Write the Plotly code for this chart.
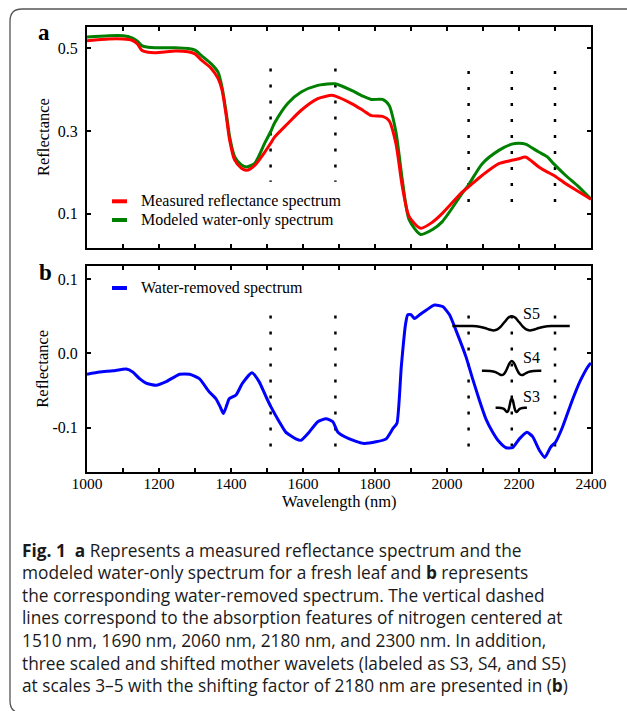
import plotly.graph_objects as go

# ---------------- data ----------------
wl_a = [1000, 1060, 1100, 1125, 1140, 1152, 1170, 1189, 1220, 1244, 1281, 1300, 1318,
        1345, 1364, 1375, 1387, 1396, 1410, 1429, 1443, 1466, 1494, 1510, 1521, 1558,
        1595, 1641, 1680, 1690, 1735, 1766, 1790, 1821, 1839, 1858, 1876, 1895, 1927,
        1960, 1987, 2042, 2060, 2098, 2144, 2180, 2200, 2218, 2255, 2278, 2296, 2329,
        2366, 2400]
measured = [0.518, 0.522, 0.522, 0.519, 0.510, 0.495, 0.490, 0.489, 0.491, 0.493, 0.491,
            0.486, 0.471, 0.451, 0.427, 0.399, 0.335, 0.279, 0.230, 0.210, 0.205, 0.217,
            0.249, 0.270, 0.285, 0.318, 0.350, 0.378, 0.386, 0.384, 0.366, 0.350, 0.337,
            0.335, 0.325, 0.270, 0.165, 0.093, 0.065, 0.080, 0.101, 0.152, 0.165, 0.193,
            0.221, 0.229, 0.233, 0.237, 0.213, 0.201, 0.193, 0.173, 0.153, 0.135]
modeled = [0.527, 0.530, 0.530, 0.525, 0.517, 0.506, 0.502, 0.501, 0.501, 0.501, 0.499,
           0.495, 0.482, 0.462, 0.442, 0.406, 0.342, 0.287, 0.238, 0.218, 0.213, 0.222,
           0.271, 0.298, 0.319, 0.367, 0.394, 0.410, 0.414, 0.414, 0.398, 0.384, 0.376,
           0.376, 0.362, 0.298, 0.181, 0.085, 0.050, 0.062, 0.081, 0.149, 0.170, 0.221,
           0.253, 0.268, 0.270, 0.268, 0.249, 0.238, 0.221, 0.193, 0.165, 0.135]

wl_b = [1000, 1035, 1072, 1109, 1127, 1146, 1164, 1192, 1220, 1257, 1285, 1312, 1340,
        1358, 1370, 1379, 1388, 1395, 1414, 1432, 1458, 1478, 1497, 1511, 1534, 1552,
        1580, 1594, 1617, 1641, 1664, 1683, 1697, 1729, 1766, 1803, 1831, 1850, 1861,
        1873, 1885, 1891, 1900, 1910, 1924, 1942, 1965, 1988, 2007, 2025, 2053, 2071,
        2090, 2108, 2127, 2145, 2164, 2182, 2201, 2222, 2238, 2256, 2272, 2288, 2302,
        2321, 2348, 2371, 2394, 2400]
water_removed = [-0.028, -0.025, -0.0235, -0.021, -0.025, -0.034, -0.040, -0.043, -0.038,
                 -0.028, -0.028, -0.034, -0.052, -0.061, -0.072, -0.081, -0.070, -0.061,
                 -0.056, -0.040, -0.026, -0.038, -0.058, -0.072, -0.092, -0.106, -0.115,
                 -0.117, -0.106, -0.092, -0.088, -0.092, -0.106, -0.115, -0.121, -0.119,
                 -0.115, -0.101, -0.094, -0.018, 0.040, 0.052, 0.052, 0.047, 0.052, 0.058,
                 0.065, 0.063, 0.052, 0.031, -0.005, -0.034, -0.063, -0.088, -0.106,
                 -0.119, -0.127, -0.127, -0.115, -0.106, -0.112, -0.130, -0.140, -0.126,
                 -0.119, -0.099, -0.063, -0.036, -0.016, -0.013]

# scaled / shifted mother wavelets (centre 2180 nm)
s5_wl = [2015, 2070, 2090, 2105, 2120, 2130, 2140, 2150, 2160, 2170, 2180, 2190, 2200,
         2210, 2220, 2230, 2240, 2255, 2270, 2290, 2341]
s5_val = [0.0368, 0.0367, 0.0359, 0.0342, 0.0317, 0.0309, 0.0322, 0.0363, 0.0422, 0.0478,
          0.0500, 0.0478, 0.0422, 0.0363, 0.0322, 0.0309, 0.0317, 0.0342, 0.0359, 0.0367,
          0.0368]
s4_wl = [2097, 2120, 2135, 2145, 2152, 2158, 2164, 2170, 2175, 2180, 2185, 2190, 2196,
         2202, 2208, 2215, 2225, 2240, 2262]
s4_val = [-0.0234, -0.0236, -0.0251, -0.0279, -0.0292, -0.0279, -0.0234, -0.0169, -0.0122,
          -0.0104, -0.0122, -0.0169, -0.0234, -0.0279, -0.0292, -0.0279, -0.0251, -0.0236,
          -0.0234]
s3_wl = [2135, 2150, 2158, 2163, 2167, 2170, 2172.5, 2175, 2177.5, 2180, 2182.5, 2185,
         2187.5, 2190, 2193, 2197, 2202, 2210, 2222]
s3_val = [-0.0733, -0.0734, -0.0746, -0.0773, -0.0789, -0.0773, -0.0733, -0.0677, -0.0627,
          -0.0607, -0.0627, -0.0677, -0.0733, -0.0773, -0.0789, -0.0773, -0.0746, -0.0734,
          -0.0733]

nitrogen_wl = [1510, 1690, 2060, 2180, 2300]
dash_top_a = [0.451, 0.451, 0.445, 0.445, 0.445]
dash_bot_a = [0.177, 0.177, 0.097, 0.097, 0.097]
dash_top_b = [0.051, 0.051, 0.051, 0.051, 0.051]
dash_bot_b = [-0.139, -0.139, -0.139, -0.139, -0.139]

x_tickvals = list(range(1000, 2401, 100))
x_ticktext = ['1000', '', '1200', '', '1400', '', '1600', '', '1800', '', '2000', '',
              '2200', '', '2400']
ya_tickvals = [0.1, 0.3, 0.5]
ya_ticktext = ['0.1', '0.3', '0.5']
yb_tickvals = [-0.1, 0.0, 0.1]
yb_ticktext = ['-0.1', '0.0', '0.1']

wavelet_labels = ['S5', 'S4', 'S3']
wavelet_label_x = [2235, 2235, 2235]
wavelet_label_y = [0.054, -0.005, -0.058]

caption_lines = [
    "<b>Fig. 1</b>\u00a0\u00a0<b>a</b> Represents a measured reflectance spectrum and the",
    "modeled water-only spectrum for a fresh leaf and <b>b</b> represents",
    "the corresponding water-removed spectrum. The vertical dashed",
    "lines correspond to the absorption features of nitrogen centered at",
    "1510 nm, 1690 nm, 2060 nm, 2180 nm, and 2300 nm. In addition,",
    "three scaled and shifted mother wavelets (labeled as S3, S4, and S5)",
    "at scales 3\u20135 with the shifting factor of 2180 nm are presented in (<b>b</b>)",
]

# ---------------- layout geometry ----------------
W, H = 627, 711
L, R, T, B = 87, 36, 27, 239
PW, PH = W - L - R, H - T - B


def px(xp):
    return (xp - L) / PW


def py(yp):
    return (H - B - yp) / PH


SERIF = "Liberation Serif, Times New Roman, serif"
RED, GREEN, BLUE = "#ff0000", "#008000", "#0000ff"

# x tick-label standoff (pull the labels a little closer to the axis if allowed)
try:
    go.layout.XAxis(ticklabelstandoff=-4)
    X_STANDOFF = -4
except Exception:
    X_STANDOFF = 0

fig = go.Figure()

# dashed nitrogen lines
for i, w in enumerate(nitrogen_wl):
    fig.add_trace(go.Scatter(x=[w, w], y=[dash_top_a[i], dash_bot_a[i]], mode="lines",
                             line=dict(color="black", width=2.5, dash="3px,13px"),
                             xaxis="x", yaxis="y", showlegend=False, hoverinfo="skip"))
    fig.add_trace(go.Scatter(x=[w, w], y=[dash_top_b[i], dash_bot_b[i]], mode="lines",
                             line=dict(color="black", width=2.5, dash="3px,13px"),
                             xaxis="x2", yaxis="y2", showlegend=False, hoverinfo="skip"))

fig.add_trace(go.Scatter(x=wl_a, y=modeled, mode="lines", name="Modeled water-only spectrum",
                         line=dict(color=GREEN, width=3, shape="spline", smoothing=0.7),
                         xaxis="x", yaxis="y", showlegend=False))
fig.add_trace(go.Scatter(x=wl_a, y=measured, mode="lines", name="Measured reflectance spectrum",
                         line=dict(color=RED, width=3, shape="spline", smoothing=0.7),
                         xaxis="x", yaxis="y", showlegend=False))
fig.add_trace(go.Scatter(x=wl_b, y=water_removed, mode="lines", name="Water-removed spectrum",
                         line=dict(color=BLUE, width=3, shape="spline", smoothing=0.5),
                         xaxis="x2", yaxis="y2", showlegend=False))
for wx, wy in [(s5_wl, s5_val), (s4_wl, s4_val), (s3_wl, s3_val)]:
    fig.add_trace(go.Scatter(x=wx, y=wy, mode="lines",
                             line=dict(color="black", width=2.5, shape="spline", smoothing=0.8),
                             xaxis="x2", yaxis="y2", showlegend=False, hoverinfo="skip"))

axis_common = dict(showline=True, linewidth=2, linecolor="black", mirror="ticks",
                   ticks="inside", ticklen=4, tickwidth=1.5, tickcolor="black",
                   showgrid=False, zeroline=False,
                   tickfont=dict(family=SERIF, size=16, color="black"))

fig.update_layout(
    width=W, height=H,
    margin=dict(l=L, r=R, t=T, b=B, autoexpand=False),
    paper_bgcolor="white", plot_bgcolor="white",
    xaxis=dict(domain=[0, 1], range=[1000, 2400], anchor="y", tickvals=x_tickvals,
               ticktext=x_ticktext, showticklabels=False, **axis_common),
    yaxis=dict(domain=[py(247.7), 1], range=[0.018, 0.551], anchor="x",
               tickvals=ya_tickvals, ticktext=ya_ticktext, ticklabelstandoff=4, **axis_common),
    xaxis2=dict(domain=[0, 1], range=[1000, 2400], anchor="y2", tickvals=x_tickvals,
                ticktext=x_ticktext, showticklabels=True, ticklabelstandoff=X_STANDOFF,
                **axis_common),
    yaxis2=dict(domain=[0, py(265.7)], range=[-0.1596, 0.118], anchor="x2",
                tickvals=yb_tickvals, ticktext=yb_ticktext, ticklabelstandoff=4, **axis_common),
    showlegend=False,
)
fig.update_xaxes(selector=dict(anchor="y2"), tickfont=dict(size=15.5))


def label(text, x, y, size, xanchor="center", angle=0, family=SERIF, color="black"):
    return dict(text=text, x=px(x), y=py(y), xref="paper", yref="paper", showarrow=False,
                xanchor=xanchor, yanchor="middle", textangle=angle,
                font=dict(family=family, size=size, color=color))


ann = []
ann.append(label("<b>a</b>", 44, 32, 23))
ann.append(label("<b>b</b>", 45, 272, 23))
for yc in (137, 368.7):
    ann.append(label("Reflectance", 43, yc, 16.5, angle=-90))
ann.append(label("Wavelength (nm)", 339, 501, 16.5))

legend_items = [("Measured reflectance spectrum", RED, 201.3),
                ("Modeled water-only spectrum", GREEN, 220),
                ("Water-removed spectrum", BLUE, 288)]
shapes = []
for text, col, yc in legend_items:
    shapes.append(dict(type="line", xref="paper", yref="paper", x0=px(112), x1=px(127),
                       y0=py(yc), y1=py(yc), line=dict(color=col, width=4)))
    ann.append(label(text, 139, yc, 16, xanchor="left"))

for t, lx, ly in zip(wavelet_labels, wavelet_label_x, wavelet_label_y):
    ann.append(dict(text=t, x=lx, y=ly, xref="x2", yref="y2", showarrow=False,
                    xanchor="center", yanchor="middle",
                    font=dict(family=SERIF, size=16, color="black")))

for i, line in enumerate(caption_lines):
    ann.append(label(line, 20, 550 + 22.6 * i, 17.3, xanchor="left",
                     family="Open Sans, Noto Sans, sans-serif", color="#1a1a1a"))

# rounded figure frame
x0, x1, xr = px(10), px(22), px(660)
y0, y1, yb1, yb0 = py(9), py(21), py(701), py(713)
path = (f"M {xr},{y0} L {x1},{y0} Q {x0},{y0} {x0},{y1} "
        f"L {x0},{yb1} Q {x0},{yb0} {x1},{yb0} L {xr},{yb0}")
shapes.append(dict(type="path", path=path, xref="paper", yref="paper",
                   line=dict(color="#555555", width=1.3)))

fig.update_layout(annotations=ann, shapes=shapes)
fig.write_html("out.html")
